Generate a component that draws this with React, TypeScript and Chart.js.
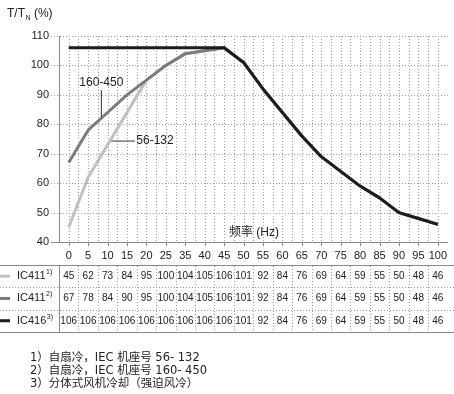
import React, { useEffect, useRef } from 'react';
import { Chart, registerables } from 'chart.js';

Chart.register(...registerables);

// ---- data ----
const FREQ_LABELS = ['0', '5', '10', '15', '20', '25', '35', '40', '45', '50', '55', '60', '65', '70', '75', '80', '85', '90', '95', '100'];
const IC411_56_132 = [45, 62, 73, 84, 95, 100, 104, 105, 106, 101, 92, 84, 76, 69, 64, 59, 55, 50, 48, 46];
const IC411_160_450 = [67, 78, 84, 90, 95, 100, 104, 105, 106, 101, 92, 84, 76, 69, 64, 59, 55, 50, 48, 46];
const IC416 = [106, 106, 106, 106, 106, 106, 106, 106, 106, 101, 92, 84, 76, 69, 64, 59, 55, 50, 48, 46];
const Y_MIN = 40;
const Y_MAX = 110;
const Y_STEP = 10;
const ROW_NAMES = ['IC411', 'IC411', 'IC416'];
const ROW_NOTES = ['1)', '2)', '3)'];
const FOOTNOTES = ['1）自扇冷，IEC 机座号 56- 132', '2）自扇冷，IEC 机座号 160- 450', '3）分体式风机冷却（强迫风冷）'];
const LABEL_160 = '160-450';
const LABEL_56 = '56-132';
const X_TITLE = '频率 (Hz)';

const COL_LIGHT = '#c0c0c0';
const COL_MID = '#7b7b7b';
const COL_DARK = '#1c1c1c';
const GRID = '#9a9a9a';
const GRID_DASH = [1, 2];
const AXIS = '#8a8a8a';
const TEXT = '#222222';
const SANS = '"Liberation Sans", Arial, "Noto Sans CJK SC", sans-serif';

const isInt = (v: number) => Math.abs(v - Math.round(v)) < 1e-6;

// dotted line made of 1px squares (crisp)
function dottedV(ctx: any, x: number, y1: number, y2: number) {
  for (let y = Math.round(y1); y < y2; y += 3) ctx.fillRect(Math.round(x), y, 1, 1);
}
function dottedH(ctx: any, y: number, x1: number, x2: number) {
  for (let x = Math.round(x1); x < x2; x += 3) ctx.fillRect(x, Math.round(y), 1, 1);
}

function drawGrid(chart: any) {
  const { ctx, chartArea, scales } = chart;
  const { left, right, top, bottom } = chartArea;
  const xs = scales.x;
  const ys = scales.y;
  ctx.save();
  ctx.globalCompositeOperation = 'destination-over';
  ctx.fillStyle = GRID;
  for (let k = 0; k <= (FREQ_LABELS.length - 1) * 2 + 1; k++) {
    const v = -0.5 + k * 0.5;
    const px = xs.getPixelForValue(v);
    if (px <= left + 1 || px >= right - 0.5) continue;
    dottedV(ctx, px, top, bottom);
  }
  for (let v = Y_MIN + Y_STEP; v <= Y_MAX; v += Y_STEP) {
    dottedH(ctx, ys.getPixelForValue(v), left - 8, right);
  }

  ctx.strokeStyle = AXIS;
  ctx.lineWidth = 1;
  ctx.beginPath();
  for (let i = 0; i < FREQ_LABELS.length; i++) {
    const px = Math.round(xs.getPixelForValue(i)) + 0.5;
    ctx.moveTo(px, bottom);
    ctx.lineTo(px, bottom + 4);
  }
  const by = Math.round(bottom) + 0.5;
  ctx.moveTo(left - 8, by);
  ctx.lineTo(left, by);
  ctx.stroke();
  ctx.restore();
}

const extras = {
  id: 'extras',
  afterDraw(chart: any) {
    const { ctx, chartArea, scales } = chart;
    const xs = scales.x;
    const ys = scales.y;
    const W = chart.width;

    drawGrid(chart);

    ctx.save();
    // y-axis title T/T_N (%)
    ctx.fillStyle = TEXT;
    ctx.textBaseline = 'middle';
    ctx.textAlign = 'left';
    ctx.font = `12px ${SANS}`;
    let tx = 7;
    ctx.fillText('T/T', tx, 14);
    tx += ctx.measureText('T/T').width + 0.5;
    ctx.font = `7px ${SANS}`;
    ctx.fillText('N', tx, 18);
    tx += ctx.measureText('N').width;
    ctx.font = `12px ${SANS}`;
    ctx.fillText(' (%)', tx, 14);

    // x-axis title inside chart
    ctx.font = `12px ${SANS}`;
    ctx.fillText(X_TITLE, xs.getPixelForValue(8.25), ys.getPixelForValue(43));

    // annotation 160-450
    ctx.strokeStyle = '#333';
    ctx.lineWidth = 1;
    const ax = xs.getPixelForValue(1.68);
    ctx.beginPath();
    ctx.moveTo(ax, ys.getPixelForValue(91.6));
    ctx.lineTo(ax, ys.getPixelForValue(82.5));
    ctx.stroke();
    ctx.textAlign = 'center';
    ctx.font = `12px ${SANS}`;
    ctx.fillText(LABEL_160, ax, ys.getPixelForValue(94));

    // annotation 56-132
    const by = ys.getPixelForValue(74.3);
    ctx.beginPath();
    ctx.moveTo(xs.getPixelForValue(2.2), by);
    ctx.lineTo(xs.getPixelForValue(3.4), by);
    ctx.stroke();
    ctx.textAlign = 'left';
    ctx.fillText(LABEL_56, xs.getPixelForValue(3.48), by);

    // ---- table ----
    const top = 265;
    const rowH = 22.3;
    const bottom = top + rowH * 3;
    const left = chartArea.left;
    ctx.strokeStyle = AXIS;
    ctx.lineWidth = 1;
    ctx.beginPath();
    ctx.moveTo(0, top + 0.5);
    ctx.lineTo(W, top + 0.5);
    ctx.moveTo(0, Math.round(bottom) + 0.5);
    ctx.lineTo(W, Math.round(bottom) + 0.5);
    ctx.moveTo(Math.round(left) + 0.5, top);
    ctx.lineTo(Math.round(left) + 0.5, bottom);
    ctx.stroke();

    ctx.fillStyle = GRID;
    for (let r = 1; r < 3; r++) dottedH(ctx, top + rowH * r, 0, W);
    for (let i = 0; i < FREQ_LABELS.length - 1; i++) dottedV(ctx, xs.getPixelForValue(i + 0.5), top + 1, bottom);

    const rows = [IC411_56_132, IC411_160_450, IC416];
    const cols = [COL_LIGHT, COL_MID, COL_DARK];
    rows.forEach((vals, r) => {
      const cy = top + rowH * r + rowH / 2;
      ctx.strokeStyle = cols[r];
      ctx.lineWidth = 3;
      ctx.beginPath();
      ctx.moveTo(0, cy);
      ctx.lineTo(10, cy);
      ctx.stroke();
      ctx.fillStyle = TEXT;
      ctx.textAlign = 'left';
      ctx.font = `11px ${SANS}`;
      ctx.fillText(ROW_NAMES[r], 17, cy);
      const nw = ctx.measureText(ROW_NAMES[r]).width;
      ctx.font = `7px ${SANS}`;
      ctx.fillText(ROW_NOTES[r], 17 + nw + 0.5, cy - 4);
      ctx.textAlign = 'center';
      ctx.font = `10px ${SANS}`;
      vals.forEach((v, i) => {
        ctx.fillText(String(v), xs.getPixelForValue(i), cy);
      });
    });

    // footnotes
    ctx.fillStyle = TEXT;
    ctx.textAlign = 'left';
    ctx.font = `11.5px "DejaVu Sans", "Noto Sans CJK SC", sans-serif`;
    FOOTNOTES.forEach((t, i) => {
      ctx.fillText(t, 30, 358 + i * 13);
    });

    ctx.restore();
  },
};

export default function App() {
  const ref = useRef<HTMLCanvasElement | null>(null);

  useEffect(() => {
    document.body.style.margin = '0';
    const canvas = ref.current;
    if (!canvas) return;
    const toPts = (arr: number[]) => arr.map((v, i) => ({ x: i, y: v }));
    const lineDs = (label: string, data: number[], color: string) => ({
      label,
      data: toPts(data),
      borderColor: color,
      backgroundColor: color,
      borderWidth: 3,
      pointRadius: 0,
      tension: 0,
      fill: false,
      borderJoinStyle: 'round' as const,
      clip: false as const,
    });
    const chart = new Chart(canvas, {
      type: 'line',
      data: {
        datasets: [
          lineDs('IC416', IC416, COL_DARK),
          lineDs('IC411 160-450', IC411_160_450, COL_MID),
          lineDs('IC411 56-132', IC411_56_132, COL_LIGHT),
        ],
      },
      options: {
        animation: false,
        responsive: false,
        devicePixelRatio: 1,
        layout: { padding: { top: 36, right: 0, bottom: 132, left: 0 } },
        plugins: { legend: { display: false }, tooltip: { enabled: false } },
        scales: {
          x: {
            type: 'linear',
            min: -0.5,
            max: FREQ_LABELS.length - 0.5,
            afterBuildTicks: (s: any) => {
              s.ticks = FREQ_LABELS.map((_, i) => ({ value: i }));
            },
            ticks: {
              autoSkip: false,
              maxRotation: 0,
              padding: 7,
              color: TEXT,
              font: { family: SANS, size: 11 },
              callback: (v: any) => (isInt(Number(v)) ? FREQ_LABELS[Math.round(Number(v))] ?? '' : ''),
            },
            grid: { display: false, drawTicks: false },
            border: { display: true, color: AXIS, width: 1 },
            afterFit: (s: any) => {
              s.height = 20;
            },
          },
          y: {
            min: Y_MIN,
            max: Y_MAX,
            ticks: {
              stepSize: Y_STEP,
              padding: 10,
              color: TEXT,
              font: { family: SANS, size: 11 },
            },
            grid: { display: false, drawTicks: false },
            border: { display: true, color: AXIS, width: 1 },
            afterFit: (s: any) => {
              s.width = 59;
            },
          },
        },
      },
      plugins: [extras],
    });
    return () => chart.destroy();
  }, []);

  return <canvas ref={ref} width={454} height={394} style={{ display: 'block' }} />;
}
